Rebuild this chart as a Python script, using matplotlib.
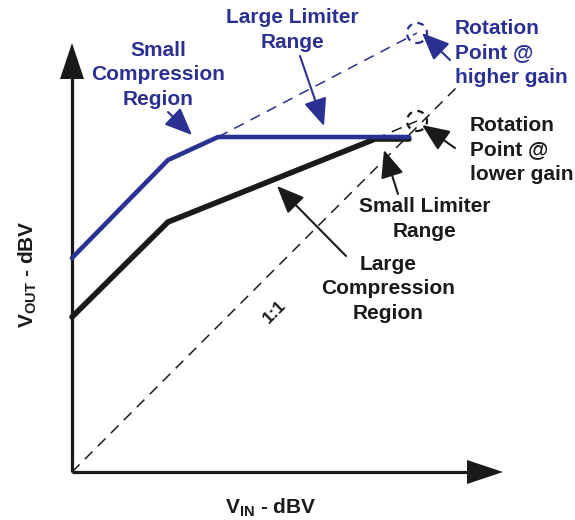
import matplotlib
matplotlib.use("Agg")
import matplotlib.pyplot as plt
from matplotlib.patches import Polygon, Circle

plt.rcParams['font.family'] = ['Liberation Sans', 'DejaVu Sans']
plt.rcParams['mathtext.fontset'] = 'custom'
plt.rcParams['mathtext.bf'] = 'Liberation Sans:bold'
plt.rcParams['mathtext.rm'] = 'Liberation Sans'

BLUE = "#2B3192"
BLACK = "#1a1a1a"

# ---- data (arbitrary dBV units, origin at axis corner) ----
blue_x = [0, 96, 146, 337]
blue_y = [214, 312, 335, 335]
black_x = [0, 96, 303, 337]
black_y = [155, 250, 333, 333]

unity_x = [0, 386]
unity_y = [0, 386]
blue_ext_x = [146, 345]
blue_ext_y = [335, 439]
black_ext_x = [303, 345]
black_ext_y = [333, 351]

rot_hi = (345, 439)
rot_lo = (345, 351)

x_axis_end = 431
y_axis_end = 429

fig = plt.figure(figsize=(5.75, 5.2), dpi=100)
ax = fig.add_axes([0, 0, 1, 1])
ax.set_xlim(-72, 503)
ax.set_ylim(-48, 472)
ax.axis('off')

# axes lines
ax.plot([0, x_axis_end - 34], [0, 0], color=BLACK, lw=2.3, solid_capstyle='butt')
ax.plot([0, 0], [0, y_axis_end - 34], color=BLACK, lw=2.3, solid_capstyle='butt')
ax.add_patch(Polygon([[x_axis_end, 0], [x_axis_end - 36, 12], [x_axis_end - 36, -12]],
                     closed=True, color=BLACK, lw=0))
ax.add_patch(Polygon([[0, y_axis_end], [-12, y_axis_end - 36], [12, y_axis_end - 36]],
                     closed=True, color=BLACK, lw=0))

dash = (0, (7, 5))
ax.plot(unity_x, unity_y, color=BLACK, lw=1.1, linestyle=dash)
ax.plot(blue_ext_x, blue_ext_y, color=BLUE, lw=1.1, linestyle=dash)
ax.plot(black_ext_x, black_ext_y, color=BLACK, lw=1.1, linestyle=dash)

ax.add_patch(Circle(rot_hi, 10, fill=False, ec=BLUE, lw=1.6, linestyle=(0, (3, 2.5))))
ax.add_patch(Circle(rot_lo, 10, fill=False, ec=BLACK, lw=1.6, linestyle=(0, (3, 2.5))))

ax.plot(black_x, black_y, color=BLACK, lw=4.0, solid_capstyle='round', solid_joinstyle='miter')
ax.plot(blue_x, blue_y, color=BLUE, lw=3.3, solid_capstyle='round', solid_joinstyle='miter')

fs = 15
tkw = dict(fontsize=fs, fontweight='bold', va='center', linespacing=1.35)

def arrow(start, end, color):
    ax.annotate('', xy=end, xytext=start,
                arrowprops=dict(arrowstyle='-|>,head_length=1.3,head_width=0.55',
                                mutation_scale=13, color=color, lw=1.5,
                                shrinkA=0, shrinkB=0))

# blue annotations
ax.text(86, 397, "Small\nCompression\nRegion", color=BLUE, ha='center', **tkw)
arrow((96, 360), (120, 337), BLUE)
ax.text(220, 442, "Large Limiter\nRange", color=BLUE, ha='center', **tkw)
arrow((228, 416), (252, 346), BLUE)
ax.text(383, 419, "Rotation\nPoint @\nhigher gain", color=BLUE, ha='left', **tkw)
arrow((378, 412), (350, 439), BLUE)

# black annotations
ax.text(398, 322, "Rotation\nPoint @\nlower gain", color=BLACK, ha='left', **tkw)
arrow((383, 324), (350, 347), BLACK)
ax.text(353, 253, "Small Limiter\nRange", color=BLACK, ha='center', **tkw)
arrow((326, 278), (312, 322), BLACK)
ax.text(316, 183, "Large\nCompression\nRegion", color=BLACK, ha='center', **tkw)
arrow((274, 216), (205, 286), BLACK)

ax.text(203, 160, "1:1", color=BLACK, fontsize=12.5, fontweight='bold', rotation=45,
        ha='center', va='center')

ax.text(199, -41, r"V$_{\mathbf{IN}}$ - dBV", color=BLACK, fontsize=fs, fontweight='bold',
        ha='center', va='baseline')
ax.text(-39, 144, r"V$_{\mathbf{OUT}}$ - dBV", color=BLACK, fontsize=fs, fontweight='bold',
        ha='left', va='baseline', rotation=90, rotation_mode='anchor')

fig.savefig("out.png", dpi=100)
